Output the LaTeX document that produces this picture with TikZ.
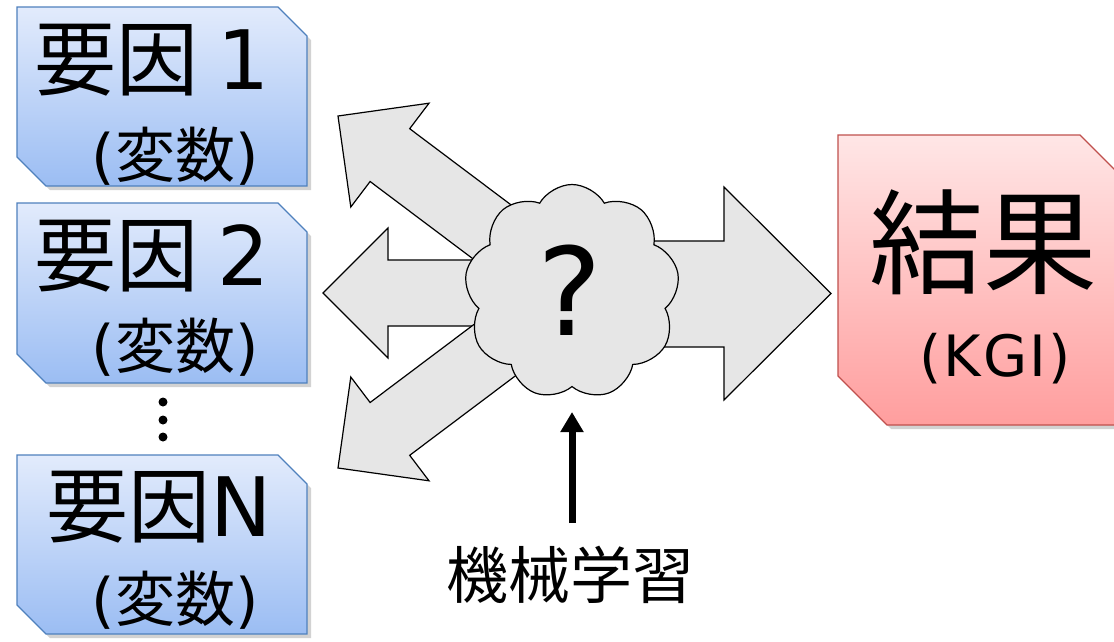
\documentclass[tikz,border=0pt]{standalone}
\usepackage{fontspec}
\setmainfont{Noto Sans CJK JP}
\newfontfamily\dv{DejaVu Sans}
\newfontfamily\dvls[LetterSpace=4]{DejaVu Sans}
\usetikzlibrary{shapes.symbols,shadows,arrows.meta}
\definecolor{bluetop}{RGB}{226,235,252}
\definecolor{bluebot}{RGB}{155,189,243}
\definecolor{blueline}{RGB}{79,129,189}
\definecolor{redtop}{RGB}{255,230,230}
\definecolor{redbot}{RGB}{255,158,158}
\definecolor{redline}{RGB}{192,80,77}
\definecolor{arrowgrey}{RGB}{230,230,230}
\tikzset{
  chambox/.style={line width=1.3pt, line join=miter,
     drop shadow={opacity=0.35, shadow xshift=4pt, shadow yshift=-4pt}},
  factorbox/.style={chambox, draw=blueline, top color=bluetop, bottom color=bluebot},
  resultbox/.style={chambox, draw=redline, top color=redtop, bottom color=redbot},
  bigtxt/.style={inner sep=0pt, font=\fontsize{82}{90}\selectfont},
  subtxt/.style={inner sep=0pt, font=\fontsize{60}{66}\selectfont},
  fatarrow/.style={draw=black, fill=arrowgrey, line width=1.2pt, line join=miter},
  dotnode/.style={circle, fill=black, inner sep=0pt, minimum size=9pt},
}
\begin{document}
\begin{tikzpicture}[x=1pt,y=-1pt]
\useasboundingbox (0,0) rectangle (1114,641);
\clip (0,0) rectangle (1114,641);
\fill[white] (0,0) rectangle (1114,641);

% factor boxes
\path[factorbox] (17,7) -- (278,7) -- (307,36) -- (307,186) -- (46,186) -- (17,157) -- cycle;
\node[bigtxt] (f1) at (152,60) {要因 {\dv 1}};
\node[subtxt] (v1) at (175,156) {{\dv(}変数{\dv)}};

\path[factorbox] (17,203) -- (278,203) -- (307,232) -- (307,383) -- (46,383) -- (17,354) -- cycle;
\node[bigtxt] (f2) at (152,256) {要因 {\dv 2}};
\node[subtxt] (v2) at (175,347) {{\dv(}変数{\dv)}};

\node[dotnode] (d1) at (163,402) {};
\node[dotnode] (d2) at (163,420) {};
\node[dotnode] (d3) at (163,437) {};

\path[factorbox] (17,455) -- (278,455) -- (307,484) -- (307,634) -- (46,634) -- (17,605) -- cycle;
\node[bigtxt] (fN) at (159,507) {要因{\dv N}};
\node[subtxt] (vN) at (175,600) {{\dv(}変数{\dv)}};

% result box
\path[resultbox] (838,135) -- (1080,135) -- (1125,180) -- (1125,425) -- (887,425) -- (838,376) -- cycle;
\node[inner sep=0pt, font=\fontsize{114}{120}\selectfont] (rt) at (983,242) {結果};
\node[inner sep=0pt, font=\dvls\fontsize{57}{62}\selectfont] (rk) at (995,359) {(KGI)};

% big grey arrows
\draw[fatarrow] (572,241) -- (724,241) -- (724,187) -- (831,293.5) -- (724,400) -- (724,347) -- (572,347) -- cycle;
\draw[fatarrow] (572,260) -- (388,260) -- (388,228) -- (323,293) -- (388,358) -- (388,326) -- (572,326) -- cycle;
\draw[fatarrow] (591.8,265.6) -- (409.7,128.7) -- (429.0,103.2) -- (338,116) -- (350.8,207.0) -- (370.1,181.5) -- (552.2,318.4) -- cycle;
\draw[fatarrow] (591.8,318.4) -- (409.7,455.3) -- (429.0,480.8) -- (338,468) -- (350.8,377.0) -- (370.1,402.5) -- (552.2,265.6) -- cycle;

% cloud
\node[cloud, cloud puffs=9, cloud puff arc=120, aspect=1, draw=black, fill=arrowgrey,
      line width=1.2pt, minimum width=215pt, minimum height=215pt, inner sep=0pt] (cl) at (572,292) {};
\node[inner sep=0pt, font=\dv\fontsize{122}{130}\selectfont] (q) at (570,290) {?};

% machine learning
\node[inner sep=0pt, font=\fontsize{62}{70}\selectfont] (ml) at (570,575) {機械学習};
\coordinate (mlstart) at (572,523);
\coordinate (mlend) at (572,412);
\draw[line width=7pt, -{Triangle[width=22pt,length=20pt]}] (mlstart) -- (mlend);
\end{tikzpicture}
\end{document}
